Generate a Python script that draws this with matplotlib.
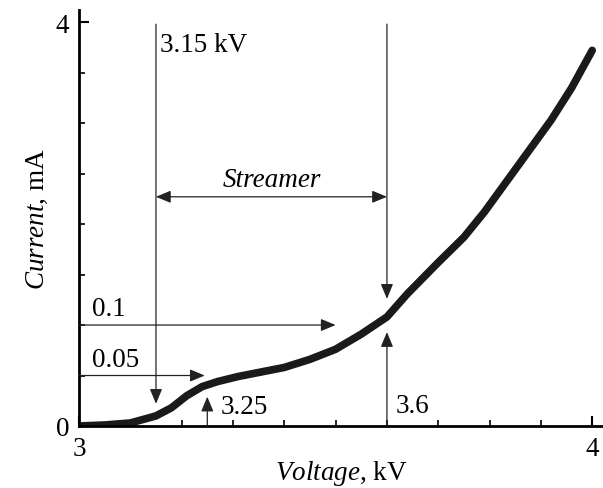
import numpy as np
import matplotlib.pyplot as plt

plt.rcParams['font.family'] = 'Liberation Serif'
plt.rcParams['mathtext.fontset'] = 'custom'
plt.rcParams['mathtext.rm'] = 'Liberation Serif'
plt.rcParams['mathtext.it'] = 'Liberation Serif:italic'

# current-voltage trace
voltage = [3.0, 3.05, 3.1, 3.15, 3.18, 3.21, 3.24, 3.27, 3.31, 3.35, 3.4, 3.45,
           3.5, 3.55, 3.6, 3.64, 3.7, 3.75, 3.79, 3.83, 3.87, 3.92, 3.96, 4.0]
current = [0.0, 0.01, 0.03, 0.1, 0.18, 0.3, 0.39, 0.44, 0.49, 0.53, 0.58, 0.66,
           0.76, 0.91, 1.08, 1.31, 1.62, 1.87, 2.12, 2.40, 2.68, 3.03, 3.35, 3.72]

v_start = 3.15      # streamer onset
v_end = 3.6         # streamer end
v_low = 3.25
lvl_low = 0.5       # "0.05" level
lvl_high = 1.0      # "0.1" level

FS = 19.5

fig = plt.figure(figsize=(6.03, 4.89), dpi=100)
ax = fig.add_axes([0.131, 0.1268, 0.869, 0.8507])

ax.plot(voltage, current, color='#1a1a1a', lw=5.5, solid_capstyle='round',
        solid_joinstyle='round')

arr = dict(arrowstyle='-|>,head_length=0.6,head_width=0.25', color='#222222',
           lw=0.9, mutation_scale=15, shrinkA=0, shrinkB=0)
arr2 = dict(arrowstyle='<|-|>,head_length=0.6,head_width=0.25', color='#222222',
            lw=0.9, mutation_scale=15, shrinkA=0, shrinkB=0)

# vertical markers from the top
ax.annotate('', xy=(v_start, 0.22), xytext=(v_start, 3.98), arrowprops=arr)
ax.annotate('', xy=(v_end, 1.26), xytext=(v_end, 3.98), arrowprops=arr)
ax.text(3.158, 3.78, '3.15 kV', fontsize=FS, va='center', ha='left')

# streamer span
ax.annotate('', xy=(v_start, 2.27), xytext=(v_end, 2.27), arrowprops=arr2)
ax.text((v_start + v_end) / 2, 2.44, 'Streamer', fontsize=FS, style='italic',
        ha='center', va='center')

# horizontal levels
ax.annotate('', xy=(3.5, lvl_high), xytext=(3.0, lvl_high), arrowprops=arr)
ax.text(3.025, 1.16, '0.1', fontsize=FS, va='center', ha='left')
ax.annotate('', xy=(3.245, lvl_low), xytext=(3.0, lvl_low), arrowprops=arr)
ax.text(3.025, 0.66, '0.05', fontsize=FS, va='center', ha='left')

# up arrows from the axis
ax.annotate('', xy=(v_low, 0.29), xytext=(v_low, 0.0), arrowprops=arr)
ax.text(3.275, 0.19, '3.25', fontsize=FS, va='center', ha='left')
ax.annotate('', xy=(v_end, 0.93), xytext=(v_end, 0.0), arrowprops=arr)
ax.text(3.616, 0.2, '3.6', fontsize=FS, va='center', ha='left')

ax.set_xlim(3.0, 4.021)
ax.set_ylim(0.0, 4.12)
ax.set_xticks([3, 4])
ax.set_xticks(np.arange(3.1, 4.0, 0.1), minor=True)
ax.set_yticks([0, 4])
ax.set_yticks([0.5, 1, 1.5, 2, 2.5, 3, 3.5], minor=True)
ax.tick_params(which='major', direction='in', length=7, width=1.5, labelsize=FS, pad=7)
ax.tick_params(which='minor', direction='in', length=4, width=1.2)
ax.spines['top'].set_color('none')
ax.spines['right'].set_color('none')
ax.spines['left'].set_linewidth(2)
ax.spines['bottom'].set_linewidth(2)

ax.set_xlabel(r'$\mathit{Voltage}$, kV', fontsize=FS, labelpad=-2)
ax.set_ylabel(r'$\mathit{Current}$, mA', fontsize=FS, labelpad=4)

plt.savefig('out.png', dpi=100)
